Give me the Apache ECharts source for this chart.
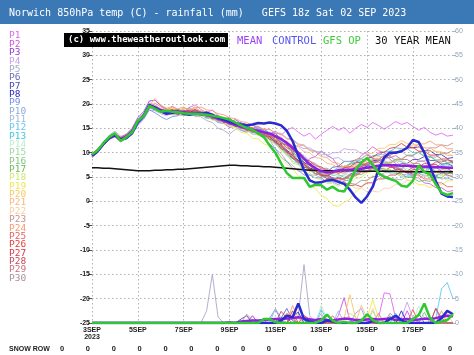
<!DOCTYPE html>
<html><head><meta charset="utf-8">
<script src="https://cdn.jsdelivr.net/npm/echarts@6/dist/echarts.min.js"></script>
<style>html,body{margin:0;padding:0;background:#fff}#c{width:474px;height:355px}</style>
</head><body><div id="c"></div>
<script>
const titleText = 'Norwich 850hPa temp (C) - rainfall (mm)   GEFS 18z Sat 02 SEP 2023';
const copyrightText = '(c) www.theweatheroutlook.com';
const xTickLabels = ['3SEP\n2023','5SEP','7SEP','9SEP','11SEP','13SEP','15SEP','17SEP'];
const snowRow = [0,0,0,0,0,0,0,0,0,0,0,0,0,0,0,0];
const memberNames = ['P1','P2','P3','P4','P5','P6','P7','P8','P9','P10','P11','P12','P13','P14','P15','P16','P17','P18','P19','P20','P21','P22','P23','P24','P25','P26','P27','P28','P29','P30'];
const memberColors = ['#e066f0','#cc55dd','#9040c8','#c8a0e8','#a8a8c8','#6a6ab8','#4a4aa8','#2a2ab8','#7090e8','#90a8d8','#a0b8d8','#60c8f0','#40c8e0','#c0ecd0','#a0d8a0','#80c880','#70b860','#d0e870','#f0e850','#f8c860','#f8b880','#f8d0a0','#c89090','#f89870','#e86060','#e84040','#d83848','#c84858','#c87080','#a89098'];

// 6-hourly 850hPa temperatures (C), 3 SEP 00z .. 18 SEP 18z
const gfsOp = [9.6,10.5,12.0,13.2,14.0,12.4,13.2,14.2,16.5,17.5,19.6,19.0,18.4,18.6,18.4,18.3,18.1,18.0,18.0,17.9,17.8,17.6,17.4,17.1,16.8,16.2,15.6,15.1,14.7,14.0,13.2,11.5,10.0,7.8,5.8,4.8,4.8,4.8,3.0,3.4,3.3,2.4,3.0,2.2,2.0,4.0,6.5,8.0,8.9,7.5,5.8,5.0,4.6,4.2,3.2,3.0,4.2,7.4,6.0,5.6,3.5,1.8,1.3,1.7];
const control = [9.4,10.3,11.8,13.0,13.6,12.6,13.0,14.0,16.2,17.5,19.8,19.2,18.5,18.0,18.2,18.4,18.0,17.8,18.0,17.9,18.2,17.8,17.2,16.8,16.4,16.0,15.8,15.6,15.8,16.1,16.0,16.2,16.0,15.6,14.5,12.4,9.4,6.4,4.3,3.8,3.9,4.3,4.4,4.0,3.6,2.4,0.8,-0.3,1.0,3.0,6.5,9.0,10.0,10.0,10.3,11.0,12.6,12.2,10.0,7.1,4.2,1.6,1.0,0.9];
const ensMean = [9.4,10.4,11.8,13.0,13.6,12.8,13.3,14.4,16.4,17.6,19.6,19.3,18.7,18.4,18.5,18.4,18.3,18.2,18.2,18.1,17.8,17.4,17.0,16.6,16.1,15.7,15.3,15.0,14.7,14.5,14.2,13.9,13.4,12.8,12.0,11.0,10.0,8.8,7.6,6.8,6.2,5.9,6.1,6.4,6.5,6.5,6.6,6.7,6.9,7.1,7.3,7.4,7.4,7.4,7.3,7.3,7.2,7.2,7.1,7.1,7.0,7.0,6.9,6.9];
const clim30 = [6.9,6.9,6.8,6.8,6.7,6.6,6.5,6.4,6.3,6.3,6.3,6.4,6.4,6.5,6.5,6.6,6.6,6.7,6.8,6.9,7.0,7.1,7.2,7.3,7.4,7.4,7.3,7.3,7.2,7.2,7.1,7.1,7.0,6.9,6.8,6.7,6.6,6.5,6.4,6.4,6.3,6.3,6.3,6.3,6.3,6.3,6.3,6.2,6.2,6.2,6.2,6.2,6.2,6.2,6.1,6.1,6.1,6.1,6.1,6.1,6.1,6.1,6.1,6.1];

const p1 = [9.2,10.6,12.2,13.4,14.0,12.6,13.0,14.8,16.8,18.0,20.2,19.8,19.0, 18.6,19.6,18.8,18.4,19.3,19.8,18.9,18.2,18.8,17.6,17.0,17.2,15.8,16.2,15.4,14.8,15.2,14.4, 13.8,14.4,13.6,14.6,15.2,14.2,13.4,14.0,12.8,13.8,14.6,15.4,14.6,15.2,14.0,15.0,15.8,15.2,16.2,15.6,14.8,15.6,16.4,15.8,16.2,15.4,14.6,15.2,14.2,13.6,14.0,13.4,13.6];
const p2 = [9.6,10.2,11.5,12.8,13.2,12.2,13.6,14.2,16.0,17.2,19.2,18.8,18.4, 18.0,18.6,18.2,18.8,18.0,17.6,18.4,17.6,17.2,16.2,16.0,15.2,15.4,14.6,14.2,15.0,15.4,14.4, 13.4,12.8,11.2,10.6,8.8,8.4,7.4,8.8,9.2,10.4,9.4,8.8,7.2,7.0,7.6,8.0,9.4,10.2,11.2,10.4,10.0,8.6,7.8,6.2,6.0,5.0,4.8,3.8,3.6,2.8,2.8,2.0,2.2];
const p3 = [9.0,10.0,11.9,13.2,13.8,13.2,13.8,15.0,17.2,18.4,20.6,20.8,19.6, 19.0,18.6,18.8,18.4,19.2,18.4,18.4,17.6,17.8,17.0,17.0,16.2,16.8,16.0,15.8,14.8,14.6,13.6, 13.2,12.0,11.2,9.6,9.0,7.8,7.6,6.8,6.8,5.8,5.6,4.8,4.8,4.6,5.6,6.0,7.2,7.4,8.4,8.4,8.4,7.4,7.2,6.2,6.2,5.6,5.8,5.2,5.4,5.2,5.8,5.6,6.2];
const p4 = [9.8,10.8,12.0,12.6,13.4,12.9,12.8,13.8,15.6,16.8,18.8,18.6,18.0, 17.6,18.2,17.8,18.6,18.4,18.6,17.6,17.6,16.8,17.0,16.2,16.2,15.4,15.4,14.6,14.8,14.0,14.2, 13.4,13.4,12.4,12.2,11.4,11.4,10.8,11.0,10.2,10.2,9.4,10.0,10.0,10.8,10.6,10.6,9.8,9.8,9.0,9.6,9.6,10.4,10.2,10.2,9.4,9.2,8.2,8.2,7.4,7.6,7.0,7.2,6.8];
const p5 = [9.3,10.3,11.6,13.6,14.4,13.4,13.4,14.6,16.6,17.9,19.9,19.0,18.8, 18.2,17.8,17.8,17.6,18.2,17.4,17.4,16.6,16.2,15.0,14.6,13.8,14.8,15.0,15.8,14.8,14.4,13.2, 12.6,10.8,9.8,8.2,7.4,6.2,6.2,5.4,5.4,4.8,5.0,4.4,5.2,5.4,6.4,6.6,7.6,6.8,6.6,5.6,5.4,4.6,4.6,4.4,5.2,5.2,6.0,6.0,6.8,6.0,6.0,5.2,5.4];
const p6 = [9.5,10.5,11.9,13.1,13.7,12.9,13.4,14.5,16.3,17.5,19.5,19.4,18.8, 18.4,18.8,18.6,18.8,18.2,18.8,18.2,18.2,17.4,17.4,16.6,16.4,15.4,15.2,14.4,14.4,13.8,14.0, 13.2,13.2,12.2,11.6,10.0,9.2,7.8,7.4,6.2,6.0,5.2,5.8,6.0,7.2,7.6,8.6,8.8,9.6,8.8,8.6,7.6,7.4,6.6,6.6,5.8,6.0,6.0,6.8,6.8,7.0,6.2,6.2,5.6];
const p7 = [9.4,10.2,11.6,12.9,13.5,12.7,13.1,14.2,16.2,17.4,19.4,19.0,18.6, 18.2,18.6,18.0,18.2,18.0,18.6,17.8,17.8,17.0,17.0,16.2,16.2,15.4,16.0,15.8,15.8,14.8,14.8, 14.0,14.0,12.8,12.2,10.6,9.6,8.0,7.4,6.2,6.2,6.0,7.0,7.2,8.2,8.2,8.4,7.6,7.6,6.8,6.8,6.2,7.0,7.0,7.8,7.8,8.6,8.6,9.2,8.4,8.4,7.6,7.8,7.2];
const p8 = [9.6,10.6,12.0,13.2,13.8,13.0,13.5,14.6,16.6,17.8,19.8,19.5,18.9, 18.6,18.6,18.8,18.2,18.4,17.8,18.0,17.2,17.4,16.8,17.0,16.2,16.2,15.4,15.4,14.6,14.6,13.8, 13.6,12.4,11.8,10.4,9.8,8.4,8.0,6.8,6.6,5.6,5.4,4.6,4.8,4.6,5.4,5.6,6.8,7.2,8.4,8.6,9.4,9.4,10.2,10.2,11.0,11.0,11.2,10.4,10.4,9.6,9.6,8.8,9.0];
const p9 = [9.2,10.4,11.8,12.8,13.4,12.6,13.0,14.0,15.8,17.0,18.8,18.2,17.4, 16.8,17.4,17.6,18.4,18.2,18.8,18.4,18.4,17.6,17.6,16.8,17.0,16.2,16.2,15.2,14.8,13.6,13.2, 11.8,10.8,9.0,8.2,6.8,6.4,5.4,5.4,4.8,4.8,4.0,4.0,3.4,4.2,4.4,5.6,6.0,7.2,7.6,8.6,8.6,9.2,8.4,8.2,7.2,7.0,6.0,6.0,5.2,5.2,4.6,4.8,4.4];
const p10 = [9.5,10.3,11.7,12.9,13.5,12.8,13.2,14.3,16.2,17.3,19.2,18.9,18.5, 18.2,17.8,18.4,18.4,19.0,18.6,18.6,17.8,17.8,17.2,17.2,16.4,16.4,15.6,15.6,14.8,15.0,14.2, 14.2,13.4,13.2,12.0,11.4,10.0,9.4,8.2,7.8,6.8,6.8,6.2,6.4,6.2,7.0,7.0,7.8,7.6,7.6,6.8,6.8,6.0,6.0,5.4,5.6,5.4,6.2,6.2,7.0,7.0,7.8,7.6,8.2];
const p11 = [9.7,10.7,12.1,13.3,13.9,13.1,13.6,14.7,16.7,17.9,19.7,19.6,19.0, 18.8,18.2,18.2,17.6,18.2,18.0,18.2,17.6,17.6,16.8,16.8,16.0,16.0,15.4,15.6,15.0,15.2,14.6, 14.8,14.0,14.0,13.0,12.8,11.8,11.6,10.6,10.4,9.6,9.6,8.8,9.0,8.2,8.2,7.4,7.4,6.8,7.4,7.4,8.2,8.0,8.2,7.4,7.4,6.6,6.6,6.0,6.2,6.0,6.6,6.4,7.0];
const p12 = [9.3,10.5,11.9,13.1,13.7,12.7,13.2,14.3,16.3,17.6,19.6,19.2,18.6, 18.4,18.0,18.2,18.0,18.6,17.8,17.8,17.0,17.0,16.2,16.2,15.4,15.4,14.6,14.6,13.8,13.8,13.0, 12.8,11.6,11.0,9.4,8.8,7.6,7.2,6.2,6.2,5.4,5.6,5.6,6.6,6.8,7.8,8.0,8.8,8.0,7.8,6.8,6.6,5.8,5.8,5.0,5.2,5.2,6.0,6.0,6.8,6.8,7.4,7.2,7.8];
const p13 = [9.6,10.4,11.8,13.0,13.6,12.9,13.4,14.5,16.5,17.7,19.7,19.4,18.8, 18.6,18.2,18.8,18.6,18.6,17.8,17.8,17.2,17.4,16.8,16.8,16.0,16.0,15.2,15.2,14.4,14.4,13.6, 13.4,12.2,11.6,10.2,9.6,8.2,7.8,6.6,6.4,5.6,6.2,6.2,7.0,7.0,7.8,7.8,8.6,8.6,9.4,9.4,10.2,10.2,11.0,10.8,10.8,10.0,10.0,9.2,9.2,8.4,8.6,8.0,8.2];
const p14 = [9.4,10.6,12.0,13.2,13.9,13.0,13.4,14.4,16.4,17.5,19.5,19.1,18.7, 18.4,18.0,18.2,17.6,17.8,17.6,18.2,17.4,17.4,16.6,16.6,15.8,15.8,15.0,15.0,14.2,14.2,13.4, 13.2,12.0,11.4,10.0,9.4,8.0,7.6,6.4,6.2,5.2,5.2,4.6,5.2,5.2,6.0,6.0,6.8,6.8,7.6,7.6,8.2,7.6,7.6,6.8,6.8,6.0,6.0,5.2,5.2,4.6,4.8,4.4,5.0];
const p15 = [9.5,10.5,11.9,13.0,13.6,12.8,13.3,14.4,16.4,17.6,19.6,19.3,18.7, 18.5,19.0,18.4,18.5,17.9,18.6,17.9,17.9,17.0,17.1,16.3,16.3,15.5,15.5,14.6,14.7,13.9,13.9, 12.8,12.4,10.6,10.0,8.2,7.8,6.4,6.4,5.4,5.8,5.4,6.4,6.2,7.2,7.0,8.0,7.8,8.8,8.6,8.8,7.8,8.0,7.0,7.2,6.2,6.4,5.4,5.6,4.8,5.6,5.4,6.4,6.2];
const p16 = [9.3,10.3,11.7,12.9,13.5,12.7,13.2,14.3,16.3,17.5,19.5,19.2,18.6, 18.3,17.9,18.5,18.3,18.9,18.3,18.5,17.7,17.7,16.9,16.9,16.1,16.1,15.3,15.3,14.5,14.5,13.7, 13.7,12.7,12.3,10.9,10.3,8.9,8.5,7.3,7.1,6.1,6.1,5.3,5.5,4.9,5.5,5.5,6.3,6.3,7.1,7.1,7.9,7.9,8.7,8.7,9.5,9.5,10.1,9.3,9.3,8.5,8.5,7.9,8.1];
const p17 = [9.6,10.6,12.0,13.1,13.7,12.9,13.4,14.5,16.5,17.7,19.7,19.4,18.8, 18.5,18.5,17.9,18.5,18.3,18.5,17.7,17.7,16.9,16.9,16.1,16.1,15.3,15.3,14.5,14.5,13.7,13.7, 12.7,12.3,10.9,10.3,8.9,8.3,7.1,6.7,5.7,5.5,4.7,4.7,4.1,4.7,4.7,5.5,5.5,6.3,6.3,7.1,6.5,6.5,5.7,5.7,4.9,4.9,4.1,4.3,4.1,4.9,4.9,5.7,5.7];
const p18 = [9.2,10.2,11.6,12.8,13.4,12.6,13.1,14.2,16.2,17.4,19.4,19.0,18.4, 18.1,18.5,18.3,18.9,18.3,18.3,17.5,17.5,16.7,16.7,15.9,15.9,15.1,15.1,14.3,14.3,13.5,13.5, 12.5,11.9,10.3,9.7,7.9,7.5,6.1,5.9,4.7,4.5,3.7,3.7,3.1,3.7,3.7,4.7,4.9,5.9,6.1,7.1,7.3,8.3,8.3,8.5,7.7,7.7,6.9,6.9,6.1,6.1,5.3,5.5,5.0];
const p19 = [9.5,10.5,11.9,13.1,13.7,12.9,13.4,14.5,16.5,17.7,19.7,19.3,18.7, 18.4,18.0,18.2,17.6,18.2,18.0,18.2,17.4,17.4,16.6,16.4,15.4,15.2,14.2,14.0,13.0,12.8,11.8, 11.4,10.0,9.2,7.6,6.8,5.2,4.6,3.2,2.6,1.2,0.6,-0.8,-1.0,-0.2,0.4,2.0,2.8,4.4,5.2,6.4,6.6,6.6,5.6,5.4,4.4,4.2,3.4,3.4,2.8,3.4,3.4,4.2,4.2];
const p20 = [9.7,10.7,12.1,13.3,13.9,13.1,13.6,14.7,16.7,17.9,19.9,19.6,19.0, 18.7,19.1,18.5,19.1,18.9,19.3,18.3,18.3,17.5,17.5,16.7,16.7,15.9,15.9,15.1,15.1,14.3,14.3, 13.3,12.9,11.5,11.1,9.5,9.1,7.7,7.3,6.3,6.1,5.3,6.1,6.3,7.3,7.5,8.5,8.7,9.7,9.9,10.9,10.9,11.7,11.7,12.5,11.9,11.9,11.1,11.1,10.3,10.3,9.7,9.9,9.3];
const p21 = [9.4,10.4,11.8,13.0,13.6,12.8,13.3,14.4,16.4,17.6,19.6,21.2,19.8, 19.2,19.4,18.6,19.2,18.9,19.4,18.4,18.4,17.6,17.6,16.8,16.8,16.0,16.0,15.2,15.2,14.4,14.4, 13.6,13.6,12.6,12.4,11.4,11.2,10.2,10.0,9.0,8.8,7.8,7.6,6.8,7.0,6.8,7.6,7.6,8.4,8.4,9.2,9.2,10.0,10.0,10.8,10.8,11.6,11.6,11.0,11.0,10.2,10.2,9.4,9.4];
const p22 = [9.3,10.3,11.7,12.9,13.5,12.7,13.2,14.3,16.3,17.5,19.5,19.2,18.6, 18.3,17.9,18.5,18.3,18.5,17.9,18.1,17.3,17.3,16.5,16.5,15.7,15.7,14.9,14.9,14.1,14.1,13.3, 13.1,11.9,11.3,9.9,9.3,7.9,7.5,6.3,6.1,5.1,5.1,4.3,4.3,3.5,3.5,2.7,2.7,1.9,2.1,1.9,2.7,2.7,3.5,3.5,4.3,4.3,5.1,5.1,5.9,5.9,6.7,6.5,7.3];
const p23 = [9.6,10.6,12.0,13.2,13.8,13.0,13.5,14.6,16.6,17.8,19.8,19.5,18.9, 18.6,18.0,18.4,17.6,18.0,17.8,18.4,17.6,17.6,16.8,16.8,16.0,16.0,15.2,15.2,14.4,14.4,13.6, 13.4,12.2,11.6,10.2,9.6,8.2,7.8,6.6,6.4,5.4,5.4,4.6,4.8,4.6,5.4,5.4,6.2,6.2,7.0,7.0,7.8,7.8,8.6,8.6,9.4,9.4,10.2,10.2,11.0,11.0,11.6,11.4,12.0];
const p24 = [9.2,10.2,11.6,12.8,13.4,12.6,13.1,14.2,16.2,17.4,19.4,20.2,19.4, 18.8,19.4,19.0,19.4,18.6,19.2,19.4,18.8,18.6,18.0,17.8,17.2,17.0,16.4,16.2,15.6,15.4,14.8, 14.8,14.0,13.8,12.8,12.6,11.6,11.4,10.4,10.2,9.2,9.0,8.0,7.8,7.0,7.2,7.0,7.8,7.8,8.6,8.6,9.4,9.4,10.2,10.2,11.0,11.0,11.8,11.8,12.4,11.6,11.6,10.8,10.8];
const p25 = [9.5,10.5,11.9,13.1,13.7,12.9,13.4,14.5,16.5,17.7,19.7,19.3,18.7, 18.4,18.0,18.6,18.4,18.6,18.0,18.2,17.4,17.4,16.6,16.6,15.8,15.8,15.0,15.0,14.2,14.2,13.4, 13.2,12.0,11.4,10.0,9.4,8.0,7.6,6.4,6.2,5.2,5.2,4.4,4.6,4.4,5.2,5.2,6.0,6.0,6.8,6.8,7.6,7.0,7.0,6.2,6.2,5.4,5.4,4.6,4.6,3.8,3.8,3.0,3.0];
const p26 = [9.4,10.4,11.8,13.0,13.6,12.8,13.3,14.4,16.4,17.6,19.6,19.3,18.7, 18.5,18.9,18.1,18.5,18.3,18.9,18.3,18.3,17.5,17.5,16.7,16.7,15.9,15.9,15.1,15.1,14.3,14.3, 13.3,13.1,11.9,11.5,10.3,9.9,8.7,8.3,7.3,7.1,6.3,6.3,5.7,6.3,6.3,7.1,7.1,7.9,7.9,8.1,7.3,7.3,6.5,6.5,5.9,6.5,6.5,7.3,7.3,8.1,8.1,8.5,8.3];
const p27 = [9.7,10.7,12.1,13.3,13.9,13.1,13.6,14.7,16.7,17.9,19.9,19.4,18.8, 18.5,18.1,18.7,18.5,18.7,18.1,18.3,17.5,17.5,16.7,16.7,15.9,15.9,15.1,15.1,14.3,14.3,13.5, 13.3,12.1,11.5,10.1,9.5,8.1,7.7,6.5,6.3,5.3,5.3,5.9,6.1,6.9,7.1,7.9,8.1,8.9,9.1,9.9,10.1,10.9,11.1,11.9,11.1,11.1,10.3,10.3,9.5,9.5,8.7,8.7,7.9];
const p28 = [9.3,10.3,11.7,12.9,13.5,12.7,13.2,14.3,16.3,17.5,19.5,19.1,18.5, 18.2,18.6,17.8,18.6,18.4,18.8,17.8,17.8,17.0,17.0,16.2,16.2,15.4,15.4,14.6,14.6,13.8,13.8, 12.8,12.4,10.8,10.4,8.8,8.4,7.0,6.8,5.6,5.6,4.6,4.8,3.8,4.0,3.2,3.4,3.0,3.8,3.8,4.6,4.6,5.4,5.4,6.2,6.2,7.0,7.0,7.8,7.6,7.6,6.8,6.8,6.0];
const p29 = [9.6,10.6,12.0,13.2,13.8,13.0,13.5,14.6,16.6,17.8,19.8,19.5,18.9, 18.6,18.2,18.8,18.2,18.4,17.8,18.4,17.6,17.6,16.8,16.8,16.0,16.0,15.2,15.2,14.4,14.4,13.6, 13.6,12.6,12.2,11.0,10.6,9.4,9.0,7.8,7.6,6.6,6.6,5.8,6.0,5.8,6.6,6.6,7.4,7.4,8.2,8.2,9.0,9.0,9.4,8.6,8.6,7.8,7.8,7.0,7.0,6.2,6.2,5.4,5.0];
const p30 = [9.4,10.4,11.8,13.0,13.6,12.8,13.3,14.4,16.4,17.6,19.6,19.2,18.6, 18.3,18.7,18.9,18.3,18.5,17.9,18.1,17.3,17.3,16.5,16.5,15.7,15.7,14.9,14.9,14.1,14.1,13.3, 13.1,11.9,11.3,9.9,9.3,7.9,7.5,6.3,6.1,5.1,5.1,4.3,4.3,3.5,3.7,3.5,4.3,4.3,5.1,5.1,5.9,5.9,6.7,6.7,7.5,7.5,8.3,8.3,9.1,9.1,9.9,9.9,10.5];
const memberTemps = [p1,p2,p3,p4,p5,p6,p7,p8,p9,p10,p11,p12,p13,p14,p15,p16,p17,p18,p19,p20,p21,p22,p23,p24,p25,p26,p27,p28,p29,p30];

// rainfall (mm) as [6h step, mm]; every other step is 0
const rainOpPts = [[30,0.8],[31,0.8],[32,0.2],[40,0.6],[41,1.7],[42,0.5],[44,0.2],[47,0.5],[48,1.8],[49,0.6],[56,0.8],[57,1.6],[58,4.0],[59,1.0],[61,0.3],[62,0.6],[63,1.8]];
const rainControlPts = [[33,0.5],[34,1.5],[35,1.2],[36,4.0],[37,0.8],[38,0.3],[41,0.5],[42,0.3],[49,0.4],[52,0.8],[53,1.5],[54,0.6],[61,1.0],[62,2.5],[63,1.8]];
const rainMeanPts = [[24,0.1],[26,0.3],[27,0.4],[28,0.5],[29,0.5],[30,0.6],[31,0.7],[32,0.8],[33,0.8],[34,0.9],[35,1.0],[36,1.2],[37,1.0],[38,0.7],[39,0.6],[40,0.8],[41,0.6],[42,0.5],[43,0.7],[44,0.9],[45,0.8],[46,0.6],[47,0.6],[48,0.7],[49,0.8],[50,0.7],[51,0.8],[52,0.9],[53,0.6],[54,0.7],[55,0.8],[56,0.6],[57,0.7],[58,0.9],[59,0.8],[60,1.0],[61,1.3],[62,1.5],[63,1.4]];
const rainP1 = [[50,1.0],[51,6.2],[52,6.0],[53,1.0]];
const rainP2 = [[43,1.5],[44,5.2],[45,0.5],[55,2.5]];
const rainP3 = [[28,1.5],[38,1.0]];
const rainP4 = [[40,2.0],[54,1.0],[55,4.3],[56,1.0]];
const rainP5 = [[20,2.5],[21,10.0],[22,1.2],[36,1.5],[37,12.0],[38,1.5]];
const rainP6 = [[33,1.0],[34,3.0],[35,0.5],[57,2.0]];
const rainP7 = [[26,0.8],[27,1.5]];
const rainP8 = [[35,1.5],[36,2.2],[54,2.5]];
const rainP9 = [[31,1.0],[32,2.8],[33,0.5],[60,3.0]];
const rainP10 = [[46,2.0],[47,3.0]];
const rainP11 = [[32,3.0],[33,1.0],[43,2.5]];
const rainP12 = [[60,1.0],[61,7.0],[62,8.3],[63,5.0]];
const rainP13 = [[40,2.8],[41,0.6],[53,2.0]];
const rainP14 = [[40,3.6],[41,1.0],[57,3.5],[58,1.0]];
const rainP15 = [[49,2.5]];
const rainP16 = [[58,2.2]];
const rainP17 = [[52,1.5]];
const rainP18 = [[45,2.0],[46,1.2]];
const rainP19 = [[48,1.0],[49,4.8],[50,1.0]];
const rainP20 = [[44,1.0],[45,5.8],[46,1.0]];
const rainP21 = [[47,3.6],[48,1.0]];
const rainP22 = [[49,3.0],[62,2.0]];
const rainP23 = [[27,1.8],[28,0.6],[50,2.0]];
const rainP24 = [[35,3.6],[36,1.0],[61,2.5]];
const rainP25 = [[34,2.0],[35,1.0],[56,2.8]];
const rainP26 = [[35,2.5],[60,3.0],[61,1.0]];
const rainP27 = [[37,1.5],[38,0.8]];
const rainP28 = [[33,2.4],[34,1.0]];
const rainP29 = [[42,1.5]];
const rainP30 = [[52,2.0],[53,1.0]];
const memberRain = [rainP1,rainP2,rainP3,rainP4,rainP5,rainP6,rainP7,rainP8,rainP9,rainP10,rainP11,rainP12,rainP13,rainP14,rainP15,rainP16,rainP17,rainP18,rainP19,rainP20,rainP21,rainP22,rainP23,rainP24,rainP25,rainP26,rainP27,rainP28,rainP29,rainP30];

const N = gfsOp.length;
const categories = [];
for (let i = 0; i < N; i++) categories.push(String(i));
function expand(pts) { const a = new Array(N).fill(0); pts.forEach(function (p) { a[p[0]] = p[1]; }); return a; }

const MONO = '"DejaVu Sans Mono", monospace';
const SANS = '"Liberation Sans", Arial, sans-serif';
const series = [];
memberRain.forEach(function (r, i) {
  series.push({type:'line', yAxisIndex:1, data:expand(r), symbol:'none', silent:true,
    lineStyle:{width:1, color:memberColors[i], opacity:0.9}, z:2});
});
memberTemps.forEach(function (d, i) {
  series.push({type:'line', yAxisIndex:0, data:d, symbol:'none', silent:true,
    lineStyle:{width:1, color:memberColors[i], opacity:0.85}, z:2});
});
series.push({type:'line', yAxisIndex:0, data:clim30, symbol:'none', lineStyle:{width:1.5, color:'#111'}, z:3});
series.push({type:'line', yAxisIndex:1, data:expand(rainMeanPts), symbol:'none', lineStyle:{width:2.5, color:'#9020e0'}, z:4});
series.push({type:'line', yAxisIndex:1, data:expand(rainControlPts), symbol:'none', lineStyle:{width:2.5, color:'#2a2ad0'}, z:4});
series.push({type:'line', yAxisIndex:1, data:expand(rainOpPts), symbol:'none', lineStyle:{width:2.5, color:'#30c830'}, z:4});
series.push({type:'line', yAxisIndex:0, data:ensMean, symbol:'none', lineStyle:{width:2.5, color:'#9020e0'}, z:4});
series.push({type:'line', yAxisIndex:0, data:control, symbol:'none', lineStyle:{width:2.5, color:'#2a2ad0'}, z:4});
series.push({type:'line', yAxisIndex:0, data:gfsOp, symbol:'none', lineStyle:{width:2.5, color:'#30c830'}, z:4});

const graphics = [
  {type:'rect', shape:{x:0, y:0, width:474, height:24}, style:{fill:'#3b78b6'}, z:10},
  {type:'text', x:9, y:13, style:{text:titleText, fill:'#ffffff', font:'10px ' + MONO, textVerticalAlign:'middle'}, z:11},
  {type:'rect', shape:{x:64, y:33, width:164, height:14}, style:{fill:'#000000'}, z:10},
  {type:'text', x:68, y:40, style:{text:copyrightText, fill:'#ffffff', font:'bold 9px ' + MONO, textVerticalAlign:'middle'}, z:11},
  {type:'text', x:237, y:41, style:{text:'MEAN', fill:'#9b44f5', font:'10.5px ' + MONO, textVerticalAlign:'middle'}, z:11},
  {type:'text', x:272, y:41, style:{text:'CONTROL', fill:'#5555ee', font:'10.5px ' + MONO, textVerticalAlign:'middle'}, z:11},
  {type:'text', x:323, y:41, style:{text:'GFS OP', fill:'#3ccc3c', font:'10.5px ' + MONO, textVerticalAlign:'middle'}, z:11},
  {type:'text', x:375, y:41, style:{text:'30 YEAR MEAN', fill:'#111111', font:'10.5px ' + MONO, textVerticalAlign:'middle'}, z:11},
  {type:'text', x:9, y:349, style:{text:'SNOW ROW', fill:'#222222', font:'bold 7px ' + SANS, textVerticalAlign:'middle'}, z:11}
];
memberNames.forEach(function (n, i) {
  graphics.push({type:'text', x:9, y:36 + i * 8.35, style:{text:n, fill:memberColors[i], font:'9.5px ' + MONO, textVerticalAlign:'middle'}, z:11});
});
snowRow.forEach(function (v, i) {
  graphics.push({type:'text', x:62 + i * 25.87, y:349, style:{text:String(v), fill:'#222222', font:'bold 7.5px ' + SANS, textAlign:'center', textVerticalAlign:'middle'}, z:11});
});

const chart = echarts.init(document.getElementById('c'), null, {renderer:'canvas'});
chart.setOption({
  animation:false,
  backgroundColor:'#ffffff',
  grid:{left:92, right:21, top:31, bottom:32, containLabel:false},
  xAxis:{type:'category', data:categories, boundaryGap:false,
    axisLine:{show:false}, axisTick:{show:false},
    axisLabel:{interval:7, formatter:function (v, i) { return xTickLabels[i / 8] || ''; },
      fontSize:7, fontWeight:'bold', color:'#222', fontFamily:SANS, lineHeight:7, margin:4},
    splitLine:{show:true, interval:7, lineStyle:{type:[1.5,2.5], color:'#b0b0b0', width:1}}},
  yAxis:[
    {type:'value', min:-25, max:35, interval:5, position:'left',
      axisLine:{show:false}, axisTick:{show:true, length:4, lineStyle:{color:'#555'}},
      axisLabel:{fontSize:7, fontWeight:'bold', color:'#222', fontFamily:SANS, margin:2},
      splitLine:{show:true, lineStyle:{type:[1.5,2.5], color:'#b0b0b0', width:1}}},
    {type:'value', min:0, max:60, interval:5, position:'right',
      axisLine:{show:false}, axisTick:{show:true, length:3, lineStyle:{color:'#a8b8c8'}},
      axisLabel:{fontSize:7, color:'#8fa5bb', fontFamily:SANS, margin:2},
      splitLine:{show:false}}
  ],
  series:series,
  graphic:graphics
});
</script></body></html>
